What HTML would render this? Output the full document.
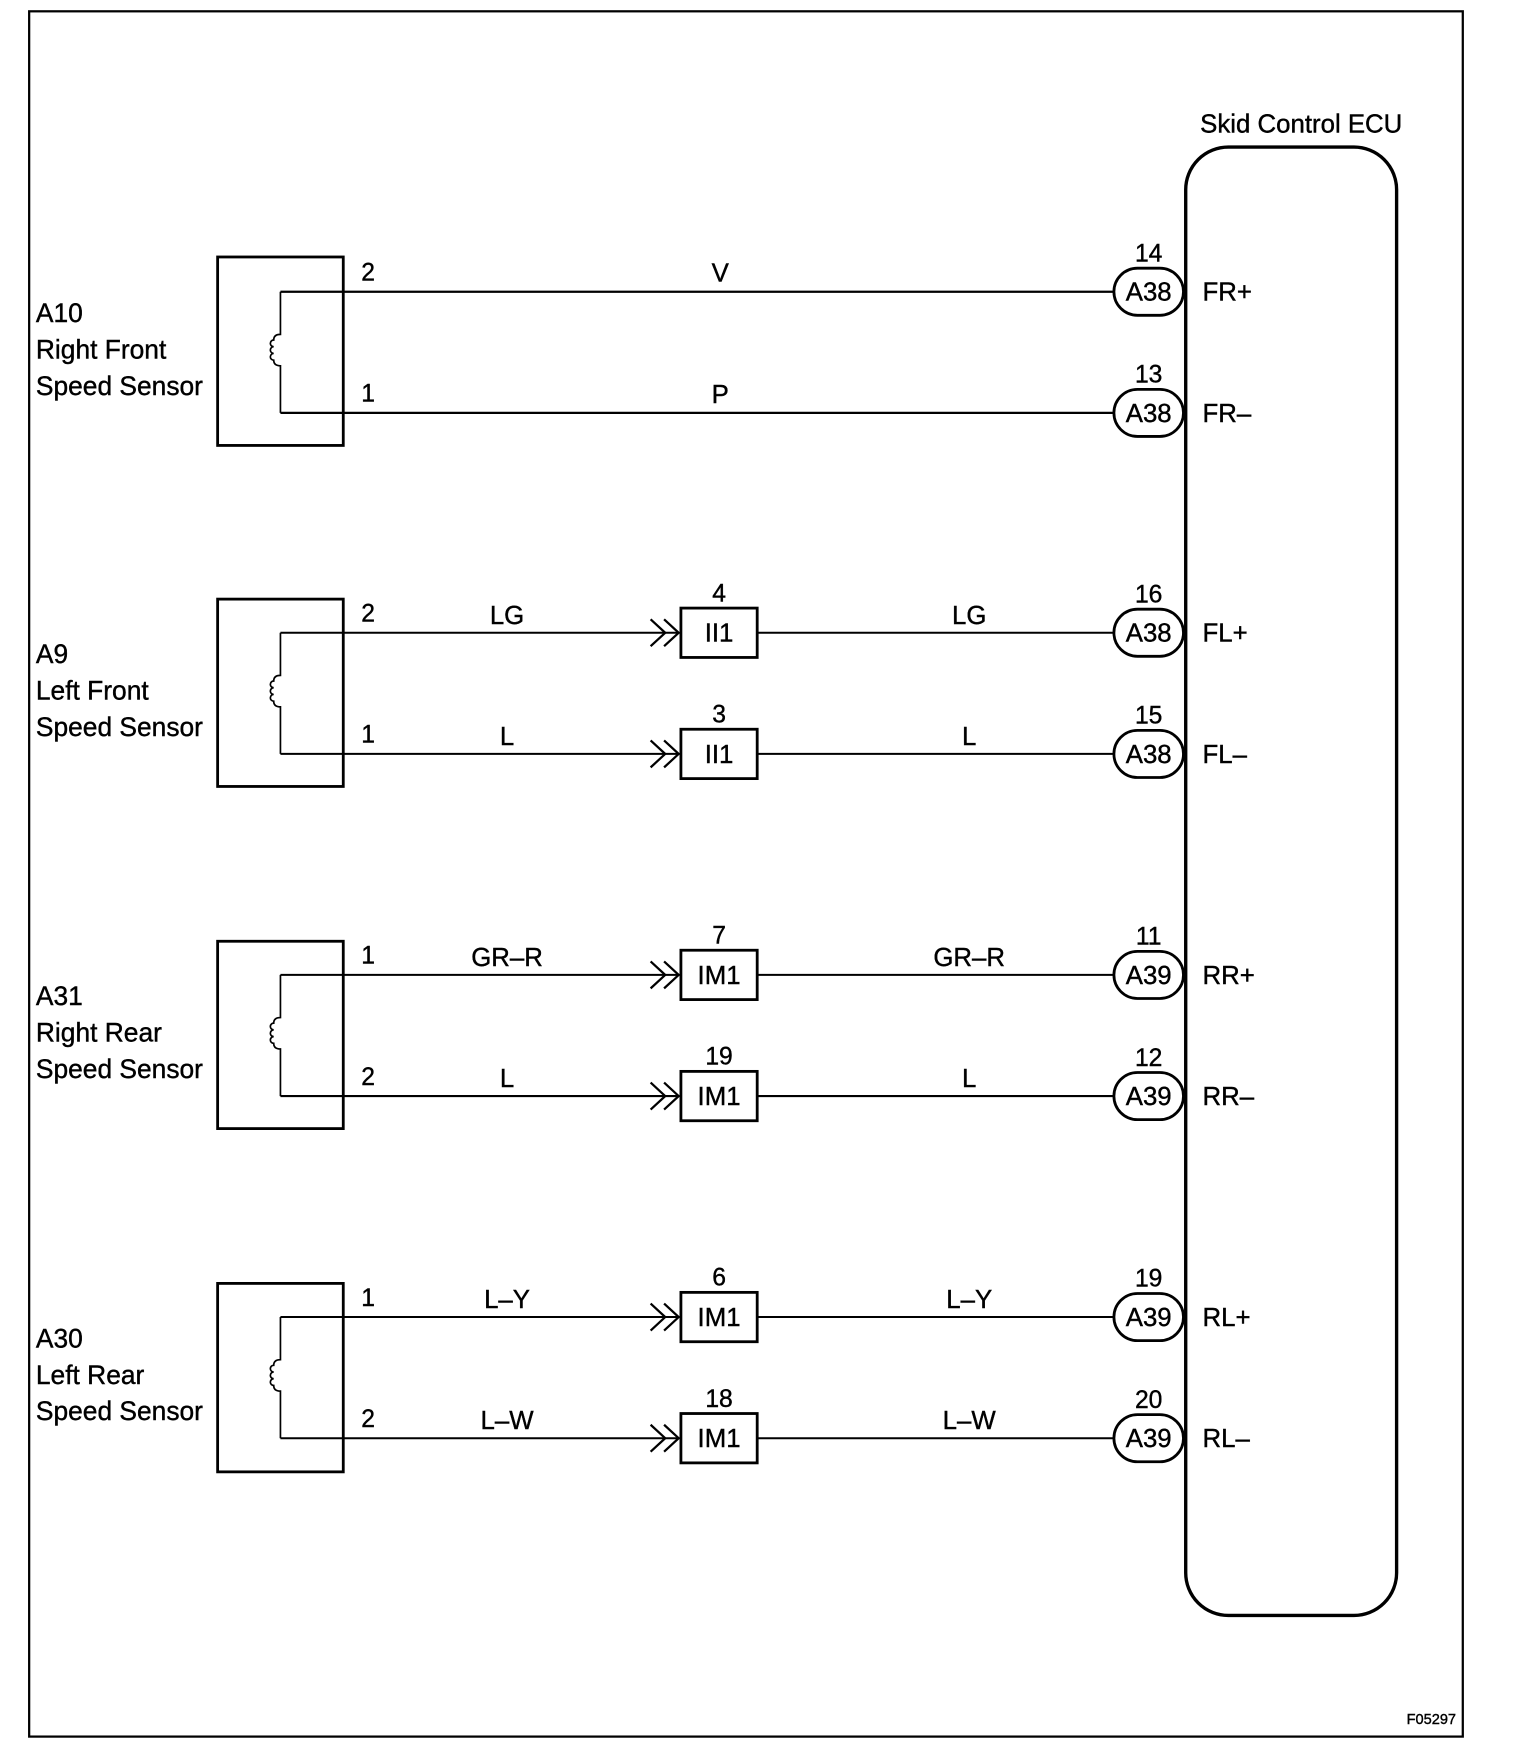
<!DOCTYPE html>
<html><head><style>html,body{margin:0;padding:0;background:#fff}svg{display:block}text{font-family:"Liberation Sans",sans-serif;fill:#000;stroke:#000;stroke-width:0.35}</style></head><body>
<svg width="1520" height="1758" viewBox="0 0 1355 1567" xmlns="http://www.w3.org/2000/svg">
<rect x="26" y="10" width="1278" height="1538" fill="none" stroke="#000" stroke-width="2"/>
<text x="1298" y="1537" font-size="13" text-anchor="end">F05297</text>
<text x="1160" y="118" font-size="23" text-anchor="middle">Skid Control ECU</text>
<rect x="1057" y="131" width="188" height="1309" rx="38" fill="none" stroke="#000" stroke-width="3"/>
<script>
var s=document.querySelector('svg'),ns='http://www.w3.org/2000/svg';
function el(t,a,txt){var e=document.createElementNS(ns,t);for(var k in a)e.setAttribute(k,a[k]);if(txt!==undefined)e.textContent=txt;s.appendChild(e);return e;}
var sensors=[
 {top:229,bot:397,w1:260,w2:368,name:['A10','Right Front','Speed Sensor'],p:['2','1'],
  wires:[{l:'V',conn:null,pin:'14',oc:'A38',sig:'FR+'},{l:'P',conn:null,pin:'13',oc:'A38',sig:'FR\u2013'}]},
 {top:534,bot:701,w1:564,w2:672,name:['A9','Left Front','Speed Sensor'],p:['2','1'],
  wires:[{l:'LG',r:'LG',conn:'II1',cp:'4',pin:'16',oc:'A38',sig:'FL+'},{l:'L',r:'L',conn:'II1',cp:'3',pin:'15',oc:'A38',sig:'FL\u2013'}]},
 {top:839,bot:1006,w1:869,w2:977,name:['A31','Right Rear','Speed Sensor'],p:['1','2'],
  wires:[{l:'GR\u2013R',r:'GR\u2013R',conn:'IM1',cp:'7',pin:'11',oc:'A39',sig:'RR+'},{l:'L',r:'L',conn:'IM1',cp:'19',pin:'12',oc:'A39',sig:'RR\u2013'}]},
 {top:1144,bot:1312,w1:1174,w2:1282,name:['A30','Left Rear','Speed Sensor'],p:['1','2'],
  wires:[{l:'L\u2013Y',r:'L\u2013Y',conn:'IM1',cp:'6',pin:'19',oc:'A39',sig:'RL+'},{l:'L\u2013W',r:'L\u2013W',conn:'IM1',cp:'18',pin:'20',oc:'A39',sig:'RL\u2013'}]}
];
sensors.forEach(function(S){
 el('rect',{x:194,y:S.top,width:112,height:S.bot-S.top,fill:'none',stroke:'#000','stroke-width':2.5});
 var m=(S.w1+S.w2)/2;
 el('path',{d:'M250 '+S.w1+' V'+(m-16)+' q-6 0 -6 5 a3 3 0 0 0 0 6 a3 3 0 0 0 0 6 a3 3 0 0 0 0 6 q0 5 6 5 V'+S.w2,fill:'none',stroke:'#000','stroke-width':1.5});
 S.name.forEach(function(t,i){el('text',{x:32,y:S.w1+27+i*32.5,'font-size':23.5},t);});
 [S.w1,S.w2].forEach(function(y,i){
  var W=S.wires[i];
  el('text',{x:322,y:y-10,'font-size':22},S.p[i]);
  if(!W.conn){
   el('line',{x1:250,y1:y,x2:993,y2:y,stroke:'#000','stroke-width':2});
   el('text',{x:642,y:y-9,'font-size':23,'text-anchor':'middle'},W.l);
  } else {
   el('line',{x1:250,y1:y,x2:605,y2:y,stroke:'#000','stroke-width':1.8});
   el('path',{d:'M580 '+(y-12)+' L593 '+y+' L580 '+(y+12)+' M592 '+(y-12)+' L605 '+y+' L592 '+(y+12),fill:'none',stroke:'#000','stroke-width':2});
   el('rect',{x:607,y:y-22,width:68,height:44,fill:'none',stroke:'#000','stroke-width':2.5});
   el('text',{x:641,y:y+8,'font-size':23,'text-anchor':'middle'},W.conn);
   el('text',{x:641,y:y-28,'font-size':22,'text-anchor':'middle'},W.cp);
   el('line',{x1:675,y1:y,x2:993,y2:y,stroke:'#000','stroke-width':1.8});
   el('text',{x:452,y:y-8,'font-size':23,'text-anchor':'middle'},W.l);
   el('text',{x:864,y:y-8,'font-size':23,'text-anchor':'middle'},W.r);
  }
  el('rect',{x:993,y:y-21,width:62,height:42,rx:21,fill:'#fff',stroke:'#000','stroke-width':2.5});
  el('text',{x:1024,y:y+8,'font-size':23,'text-anchor':'middle'},W.oc);
  el('text',{x:1024,y:y-27,'font-size':22,'text-anchor':'middle'},W.pin);
  el('text',{x:1072,y:y+8,'font-size':23},W.sig);
 });
});
</script>
</svg>
</body></html>
